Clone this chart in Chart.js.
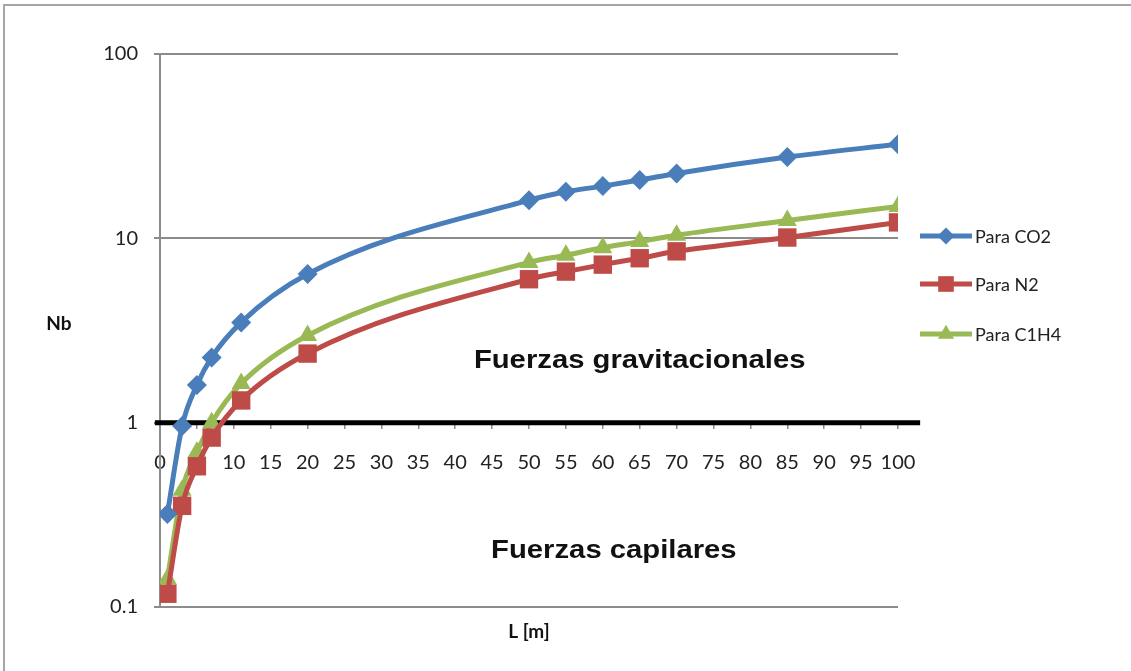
<!DOCTYPE html>
<html>
<head>
<meta charset="utf-8">
<script src="https://cdn.jsdelivr.net/npm/chart.js@4/dist/chart.umd.min.js"></script>
<style>
    html, body { margin: 0; padding: 0; background: #fff; }
    #wrap { position: relative; width: 1131px; height: 671px; overflow: hidden; }
    #frame {
        position: absolute;
        left: 3px;
        top: 4px;
        right: 0;
        bottom: 0;
        border-top: 2px solid #a6a6a6;
        border-left: 2px solid #a6a6a6;
        pointer-events: none;
    }
    canvas { position: absolute; left: 0; top: 0; display: block; }
</style>
</head>
<body>
<div id="wrap"><canvas id="nb" width="1131" height="671"></canvas><div id="frame"></div></div>
<script>
    const lengths = [1, 3, 5, 7, 11, 20, 50, 55, 60, 65, 70, 85, 100];
    const co2 = [0.32, 0.96, 1.6, 2.26, 3.5, 6.4, 16.1, 17.9, 19.2, 20.7, 22.5, 27.6, 32.4];
    const n2 = [0.118, 0.354, 0.58, 0.83, 1.32, 2.37, 6.0, 6.6, 7.2, 7.8, 8.5, 10.1, 12.2];
    const c1h4 = [0.142, 0.43, 0.69, 1.0, 1.63, 2.97, 7.4, 8.1, 8.9, 9.6, 10.4, 12.5, 14.9];
    const seriesNames = ['Para CO2', 'Para N2', 'Para C1H4'];
    const yTicks = [0.1, 1, 10, 100];
    const boundaryX = [-0.7, 103];
    const boundaryY = [1, 1];

    const tickFont = { family: 'Lato, Liberation Sans, sans-serif', size: 20 };

    function toPoints(xs, ys) {
        return xs.map((x, i) => ({ x: x, y: ys[i] }));
    }

    function series(label, values, color, style, radius) {
        return {
            label: label,
            data: toPoints(lengths, values),
            borderColor: color,
            backgroundColor: color,
            pointBackgroundColor: color,
            pointBorderColor: color,
            pointBorderWidth: 0,
            pointStyle: style,
            pointRadius: radius,
            pointHoverRadius: radius,
            borderWidth: 5,
            cubicInterpolationMode: 'monotone',
            fill: false,
        };
    }

    function drawMarker(ctx, style, x, y, r, color) {
        ctx.fillStyle = color;
        ctx.beginPath();
        if (style === 'rectRot') {
            ctx.moveTo(x, y - r);
            ctx.lineTo(x + r, y);
            ctx.lineTo(x, y + r);
            ctx.lineTo(x - r, y);
        } else if (style === 'rect') {
            const s = r * Math.SQRT1_2;
            ctx.rect(x - s, y - s, s * 2, s * 2);
        } else {
            ctx.moveTo(x, y - r);
            ctx.lineTo(x + r * 0.87, y + r * 0.5);
            ctx.lineTo(x - r * 0.87, y + r * 0.5);
        }
        ctx.closePath();
        ctx.fill();
    }

    // legend at the right plus the free texts
    const extras = {
        id: 'extras',
        afterDraw(chart) {
            const ctx = chart.ctx;
            const area = chart.chartArea;
            const xs = chart.scales.x;
            const ys = chart.scales.y;
            ctx.save();

            const rows = [236, 284, 334];
            chart.data.datasets.slice(0, 3).forEach((ds, i) => {
                const y = rows[i];
                const x0 = area.right + 22;
                ctx.strokeStyle = ds.borderColor;
                ctx.lineWidth = 5;
                ctx.beginPath();
                ctx.moveTo(x0, y);
                ctx.lineTo(x0 + 52, y);
                ctx.stroke();
                drawMarker(ctx, ds.pointStyle, x0 + 26, y, ds.pointRadius * 0.85, ds.borderColor);
                ctx.fillStyle = '#222';
                ctx.font = '18px Lato, Liberation Sans, sans-serif';
                ctx.textAlign = 'left';
                ctx.textBaseline = 'middle';
                ctx.fillText(ds.label, x0 + 55, y + 1);
            });

            ctx.fillStyle = '#111';
            ctx.textAlign = 'center';
            ctx.textBaseline = 'middle';
            ctx.font = 'bold 25px Liberation Sans, Arial, sans-serif';
            const notes = [
                ['Fuerzas gravitacionales', 65, 2.15],
                ['Fuerzas capilares', 61.5, 0.2],
            ];
            notes.forEach(([text, nx, ny]) => {
                ctx.save();
                ctx.translate(xs.getPixelForValue(nx), ys.getPixelForValue(ny));
                ctx.scale(1.17, 1);
                ctx.fillText(text, 0, 0);
                ctx.restore();
            });

            ctx.font = 'bold 19px Lato, Liberation Sans, sans-serif';
            ctx.fillText('Nb', 59, (area.top + area.bottom) / 2 - 7);
            ctx.fillText('L [m]', (area.left + area.right) / 2, area.bottom + 25);
            ctx.restore();
        },
    };

    new Chart(document.getElementById('nb'), {
        type: 'line',
        data: {
            datasets: [
                series(seriesNames[0], co2, '#4A7EBB', 'rectRot', 10),
                series(seriesNames[1], n2, '#BE4B48', 'rect', 13),
                series(seriesNames[2], c1h4, '#98B954', 'triangle', 11),
                {
                    label: 'limite',
                    data: toPoints(boundaryX, boundaryY),
                    borderColor: '#000',
                    borderWidth: 5,
                    pointRadius: 0,
                    clip: false,
                    order: 10,
                },
            ],
        },
        options: {
            responsive: false,
            animation: false,
            events: [],
            layout: { padding: { left: 0, right: 233, top: 54, bottom: 64 } },
            scales: {
                x: {
                    type: 'linear',
                    min: 0,
                    max: 100,
                    position: { y: 1 },
                    border: { display: false },
                    grid: { drawOnChartArea: false, drawTicks: true, tickLength: 6, color: '#8c8c8c', lineWidth: 1.5 },
                    ticks: {
                        stepSize: 5,
                        autoSkip: false,
                        maxRotation: 0,
                        padding: 22,
                        color: '#222',
                        font: tickFont,
                    },
                },
                y: {
                    type: 'logarithmic',
                    min: 0.1,
                    max: 100,
                    afterBuildTicks(scale) {
                        scale.ticks = yTicks.map((v) => ({ value: v }));
                    },
                    afterFit(scale) {
                        scale.width = 160;
                    },
                    border: { color: '#8c8c8c', width: 2 },
                    grid: { color: '#8c8c8c', lineWidth: 2, tickLength: 6 },
                    ticks: {
                        padding: 16,
                        color: '#222',
                        font: tickFont,
                        callback: (v) => String(v),
                    },
                },
            },
            plugins: {
                legend: { display: false },
                tooltip: { enabled: false },
            },
        },
        plugins: [extras],
    });
</script>
</body>
</html>
